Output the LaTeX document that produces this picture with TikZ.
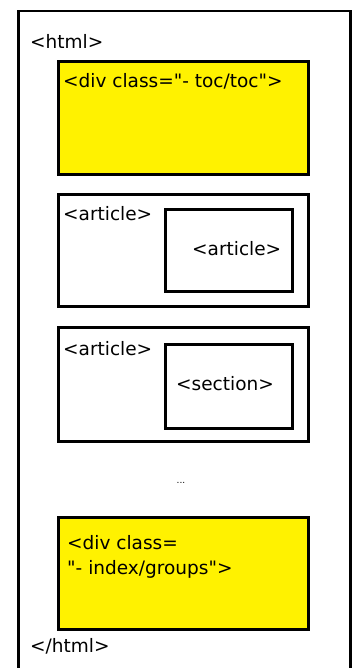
\documentclass[tikz,border=0pt]{standalone}
\usepackage{fontspec}
\setmainfont{DejaVu Sans}[Ligatures=TeXOff]
\begin{document}
\begin{tikzpicture}[x=1pt,y=-1pt,
  frame/.style={draw=black,line width=3pt,rectangle,anchor=north west,inner sep=0pt},
  ybox/.style={frame,fill=yellow},
  wbox/.style={frame,fill=white},
  lbl/.style={anchor=west,inner sep=0pt,font=\fontsize{18.5}{21}\selectfont,text=black}]
\useasboundingbox (0,0) rectangle (352,668);
\fill[white] (0,0) rectangle (352,668);
\node[frame,line width=2.5pt,minimum width=332pt,minimum height=680pt] (outer) at (17,10) {};
\node[lbl] (htmlopen) at (30,41) {<html>};
\node[ybox,minimum width=250pt,minimum height=113pt] (toc) at (57,60) {};
\node[lbl] (toclbl) at (63,81) {<div class="- toc/toc">};
\node[wbox,minimum width=250pt,minimum height=112pt] (art1) at (57,193) {};
\node[lbl] (art1lbl) at (63,214) {<article>};
\node[wbox,minimum width=127pt,minimum height=82pt] (art1in) at (164,208) {};
\node[lbl] (art1inlbl) at (192,249) {<article>};
\node[wbox,minimum width=250pt,minimum height=114pt] (art2) at (57,326) {};
\node[lbl] (art2lbl) at (63,349) {<article>};
\node[wbox,minimum width=127pt,minimum height=84pt] (sec) at (164,343) {};
\node[lbl] (seclbl) at (176,384) {<section>};
\node[anchor=center,inner sep=0pt,font=\fontsize{9}{10}\selectfont] (dots) at (181,483) {...};
\node[ybox,minimum width=250pt,minimum height=112pt] (idx) at (57,516) {};
\node[lbl] (idxlbl1) at (67,543) {<div class=};
\node[lbl] (idxlbl2) at (67,569) {"- index/groups">};
\node[lbl] (htmlclose) at (30,646) {</html>};
\end{tikzpicture}
\end{document}
